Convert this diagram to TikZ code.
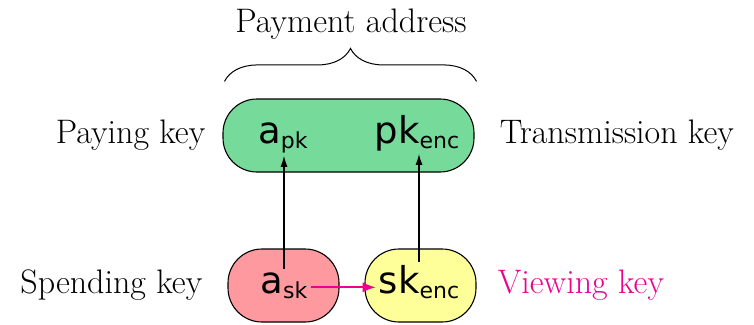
\documentclass[tikz,border=0pt]{standalone}
\usepackage{fontspec}
\usepackage{xcolor}
\usepackage{tikz}
\usetikzlibrary{positioning, calc, arrows.meta, decorations.pathreplacing}

\newfontfamily\keyfont{DejaVu Sans}
\definecolor{addrgreen}{RGB}{118,219,154}
\definecolor{skred}{RGB}{255,153,160}
\definecolor{encyellow}{RGB}{255,255,153}
\definecolor{viewpink}{RGB}{236,0,140}

\newcommand{\keysym}[2]{{\keyfont\fontsize{37}{42}\selectfont #1\raisebox{-5pt}{\fontsize{22}{26}\selectfont #2}}}

\begin{document}
\begin{tikzpicture}[
    x=1pt, y=-1pt,
    keybox/.style={draw=black, line width=1.1pt, rounded corners=34pt, minimum height=73pt, inner sep=0pt},
    keytext/.style={inner sep=3pt, anchor=base},
    keylabel/.style={inner sep=0pt, font=\fontsize{34}{40}\selectfont},
    keyarrow/.style={-{Latex[length=11pt,width=7pt]}, line width=1.2pt}
]
\useasboundingbox (0,0) rectangle (754,324);

% boxes
\node[keybox, fill=addrgreen, minimum width=251pt] (payaddr) at (348.5,135.5) {};
\node[keybox, fill=skred, minimum width=111pt] (skbox) at (283.5,285.5) {};
\node[keybox, fill=encyellow, minimum width=111pt] (encbox) at (420.5,285.5) {};

% keys
\node[keytext] (apk) at (283,143) {\keysym{a}{pk}};
\node[keytext] (pkenc) at (417,143) {\keysym{pk}{enc}};
\node[keytext] (ask) at (284,293) {\keysym{a}{sk}};
\node[keytext] (skenc) at (419,293) {\keysym{sk}{enc}};

% labels
\node[keylabel, left=17pt of payaddr] (payinglbl) {Paying key};
\node[keylabel, right=25pt of payaddr] (translbl) {Transmission key};
\node[keylabel, left=25pt of skbox] (spendlbl) {Spending key};
\node[keylabel, right=21pt of encbox, text=viewpink] (viewlbl) {Viewing key};

% payment address brace
\coordinate (braceL) at ($(payaddr.north west)+(2,-17)$);
\coordinate (braceR) at ($(payaddr.north east)+(2,-17)$);
\draw[decorate, decoration={brace, amplitude=33pt}, line width=1pt] (braceL) -- (braceR);
\node[keylabel, anchor=base] (addrlbl) at (351,32) {Payment address};

% derivations
\draw[keyarrow] (ask.north) -- (ask.north |- apk.south);
\draw[keyarrow] (skenc.north) -- (skenc.north |- pkenc.south);
\draw[keyarrow, draw=viewpink, fill=viewpink, line width=1.6pt, -{Latex[length=13pt,width=10pt]}] ([yshift=-2pt]ask.east) -- ([yshift=-2pt]ask.east -| skenc.west);

\end{tikzpicture}
\end{document}
